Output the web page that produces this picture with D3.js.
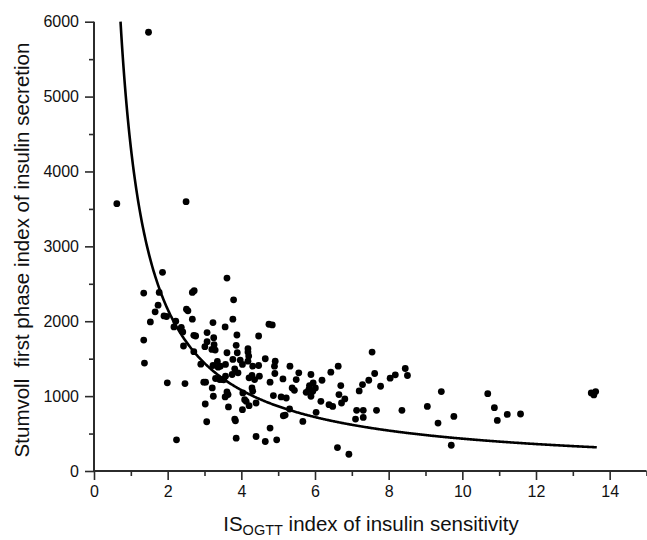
<!DOCTYPE html>
<html>
<head>
<meta charset="utf-8">
<script src="https://cdn.jsdelivr.net/npm/d3@7"></script>
<style>
  body { margin: 0; background: #fff; }
  svg { display: block; font-family: "Liberation Sans", Arial, sans-serif; }
</style>
</head>
<body>
<svg id="chart"></svg>
<script>
// -- DATA --
const isOgtt = [
  0.62, 1.48, 2.50,
  1.86, 1.35, 1.77, 1.74, 1.66, 1.53, 1.35, 1.37, 1.90, 1.97, 2.22, 2.17, 2.37, 2.41, 2.43, 1.99,
  2.47, 2.24, 2.51, 2.55, 2.67, 2.67, 2.72, 2.71, 2.76, 2.71, 2.90, 3.03, 2.98, 3.02, 3.06, 3.07,
  3.23, 3.25, 3.01, 3.07, 3.26, 3.20, 3.29, 3.23, 3.35, 3.37, 3.43, 3.30, 3.41, 3.21, 3.24, 3.48,
  3.57, 3.52, 3.61, 3.56, 3.79, 3.77, 3.88, 3.61, 3.86, 3.89, 3.77, 3.82, 3.75, 3.91, 3.57, 3.61,
  3.64, 3.56, 3.65, 3.82, 3.84, 3.86, 4.03, 3.97, 4.18, 4.18, 4.20, 4.18, 4.31, 4.21, 4.29, 4.36,
  4.29, 4.31, 4.04, 4.09, 4.13, 4.21, 4.03, 4.40, 4.40, 4.47, 4.47, 4.49, 4.65, 4.65, 4.75, 4.84,
  4.78, 4.78, 4.87, 4.90, 4.92, 4.91, 4.96, 5.08, 5.13, 5.22, 5.32, 5.14, 5.19, 5.31, 5.38, 5.44,
  5.49, 5.56, 5.67, 5.76, 5.85, 5.83, 5.89, 5.94, 5.89, 5.95, 6.01, 6.03, 6.19, 6.16, 6.38, 6.43,
  6.63, 6.48, 6.70, 6.65, 6.81, 6.72, 6.61, 6.92, 7.10, 7.13, 7.20, 7.29, 7.31, 7.31, 7.46, 7.55,
  7.62, 7.67, 7.78, 8.04, 8.18, 8.36, 8.45, 8.51, 9.05, 9.34, 9.43, 9.70, 9.77, 10.69, 10.87, 10.95,
  11.22, 11.58, 13.50, 13.57, 13.62
];
const firstPhase = [
  3570, 5859, 3597,
  2653, 2376, 2385, 2215, 2125, 1991, 1749, 1441, 2071, 2063, 2000, 1924, 1919, 1857, 1669, 1177,
  1168, 416, 2161, 2139, 2027, 2385, 2407, 1812, 1803, 1593, 1427, 1186, 1186, 895, 658, 1848,
  1982, 1781, 1660, 1727, 1687, 1624, 1615, 1409, 1463, 1387, 1400, 1235, 1221, 1110, 998, 1221,
  1266, 1217, 2577, 1924, 2286, 2027, 1816, 1579, 1678, 1579, 1490, 1365, 1289, 1311, 1423, 1056,
  1020, 989, 855, 693, 671, 438, 1423, 1481, 1633, 1588, 1535, 1467, 1400, 1244, 1275, 1221,
  1110, 1065, 1042, 953, 931, 872, 819, 908, 461, 1409, 1803, 1266, 394, 1499, 1960, 1951,
  1186, 573, 1007, 1400, 1467, 1302, 416, 989, 1230, 975, 1400, 738, 747, 828, 1110, 1078,
  1221, 1311, 662, 1051, 1141, 1087, 1289, 1065, 998, 1177, 1110, 783, 1212, 931, 886, 1320,
  1400, 863, 1141, 1020, 962, 908, 313, 224, 693, 810, 1069, 1154, 810, 716, 1212, 1588,
  1302, 810, 1132, 1239, 1284, 810, 1369, 1275, 863, 640, 1060, 344, 729, 1033, 846, 676,
  756, 761, 1042, 1016, 1060
];
const points = isOgtt.map((v, i) => ({ x: v, y: firstPhase[i] }));

// fitted curve y = fitA * x^-fitB, drawn over the range shown
const fitA = 4320;
const fitB = 1.0;
const fitRange = [0.72, 13.65];

const xTickLabels = [0, 2, 4, 6, 8, 10, 12, 14];
const yTickLabels = [0, 1000, 2000, 3000, 4000, 5000, 6000];

// -- LAYOUT --
const width = 647, height = 540;
const plot = { left: 94, right: 646.5, top: 21.7, bottom: 471 };
const axisColor = "#2b2b2b";

const svg = d3.select("#chart").attr("width", width).attr("height", height);

// Scales
const x = d3.scaleLinear().domain([0, 15]).range([plot.left, plot.right]);
const y = d3.scaleLinear().domain([0, 6000]).range([plot.bottom, plot.top]);

// X axis (labels on even, minor ticks on odd)
const xAxis = svg.append("g")
  .attr("transform", `translate(0, ${plot.bottom})`)
  .call(d3.axisBottom(x).tickValues(d3.range(0, 16)).tickSize(9).tickPadding(6)
    .tickFormat((d) => (xTickLabels.includes(d) ? d : "")));
xAxis.selectAll(".tick line")
  .attr("y2", (d) => (xTickLabels.includes(d) ? 9 : 5));

// Y axis (labels every 1000, minor every 500)
const yAxis = svg.append("g")
  .attr("transform", `translate(${plot.left}, 0)`)
  .call(d3.axisLeft(y).tickValues(d3.range(0, 6001, 500)).tickSize(9).tickPadding(6)
    .tickFormat((d) => (yTickLabels.includes(d) ? d : "")));
yAxis.selectAll(".tick line")
  .attr("x2", (d) => (yTickLabels.includes(d) ? -9 : -5));

[xAxis, yAxis].forEach((g) => {
  g.select(".domain").attr("stroke", axisColor).attr("stroke-width", 2);
  g.selectAll(".tick line").attr("stroke", axisColor).attr("stroke-width", 1.6);
  g.selectAll(".tick text")
    .attr("fill", "#111")
    .style("font-size", "16px")
    .style("font-family", "'Liberation Sans', Arial, sans-serif");
});
xAxis.select(".domain").attr("d", `M${plot.left},0H${plot.right}`);
yAxis.select(".domain").attr("d", `M0,${plot.bottom}V${plot.top}`);

// Points
svg.append("g")
  .selectAll("circle")
  .data(points)
  .enter()
  .append("circle")
  .attr("cx", (d) => x(d.x))
  .attr("cy", (d) => y(d.y))
  .attr("r", 3.4)
  .attr("fill", "#000");

// Fitted curve
const curveXs = d3.range(fitRange[0], fitRange[1], 0.02).concat([fitRange[1]]);
svg.append("path")
  .datum(curveXs.map((v) => ({ x: v, y: fitA * Math.pow(v, -fitB) })))
  .attr("fill", "none")
  .attr("stroke", "#000")
  .attr("stroke-width", 2.6)
  .attr("d", d3.line().x((d) => x(d.x)).y((d) => y(d.y)));

// Axis titles
svg.append("text")
  .attr("transform", "translate(29, 250) rotate(-90)")
  .attr("text-anchor", "middle")
  .style("font-size", "20.5px")
  .style("white-space", "pre")
  .attr("fill", "#111")
  .text("Stumvoll  first phase index of insulin secretion");

const xTitle = svg.append("text")
  .attr("x", 371)
  .attr("y", 531)
  .attr("text-anchor", "middle")
  .style("font-size", "20.5px")
  .attr("fill", "#111");
xTitle.append("tspan").text("IS");
xTitle.append("tspan").attr("dy", 4).style("font-size", "14.5px").text("OGTT");
xTitle.append("tspan").attr("dy", -4).text(" index of insulin sensitivity");
</script>
</body>
</html>
